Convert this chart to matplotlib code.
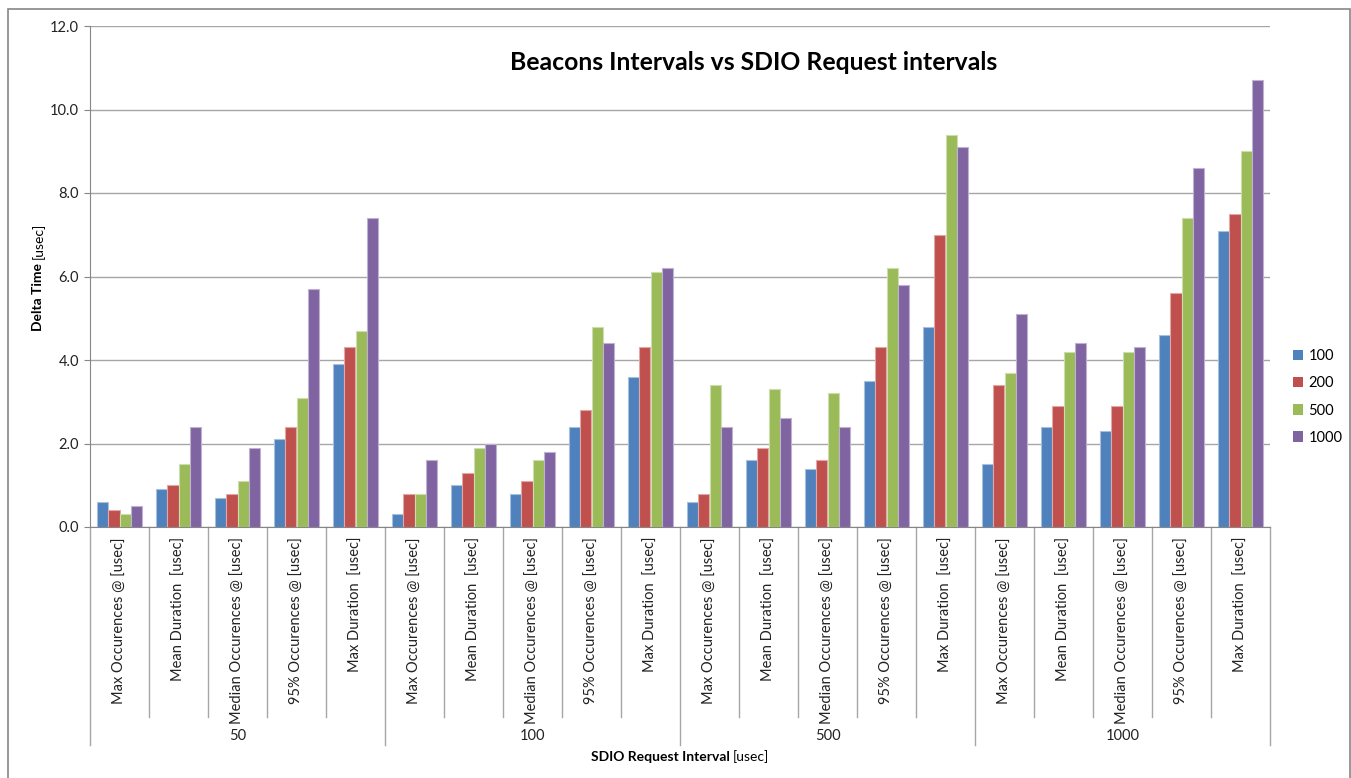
import matplotlib
matplotlib.use("Agg")
import matplotlib.pyplot as plt
import matplotlib.transforms as mtransforms
from matplotlib.patches import Rectangle
import numpy as np

plt.rcParams['font.family'] = ['Lato', 'DejaVu Sans']

groups = ["50", "100", "500", "1000"]
metrics = ["Max Occurences @ [usec]", "Mean Duration  [usec]",
           "Median Occurences @ [usec]", "95% Occurences @ [usec]",
           "Max Duration  [usec]"]
series_names = ["100", "200", "500", "1000"]

s100 = [0.6, 0.9, 0.7, 2.1, 3.9,
        0.3, 1.0, 0.8, 2.4, 3.6,
        0.6, 1.6, 1.4, 3.5, 4.8,
        1.5, 2.4, 2.3, 4.6, 7.1]
s200 = [0.4, 1.0, 0.8, 2.4, 4.3,
        0.8, 1.3, 1.1, 2.8, 4.3,
        0.8, 1.9, 1.6, 4.3, 7.0,
        3.4, 2.9, 2.9, 5.6, 7.5]
s500 = [0.3, 1.5, 1.1, 3.1, 4.7,
        0.8, 1.9, 1.6, 4.8, 6.1,
        3.4, 3.3, 3.2, 6.2, 9.4,
        3.7, 4.2, 4.2, 7.4, 9.0]
s1000 = [0.5, 2.4, 1.9, 5.7, 7.4,
         1.6, 2.0, 1.8, 4.4, 6.2,
         2.4, 2.6, 2.4, 5.8, 9.1,
         5.1, 4.4, 4.3, 8.6, 10.7]
series = [s100, s200, s500, s1000]
colors = ["#4F81BD", "#C0504D", "#9BBB59", "#8064A2"]
edge_colors = ["#A7C0DE", "#E0A8A6", "#CDDDAC", "#BFB1D0"]

W, H = 1351, 778
fig = plt.figure(figsize=(W / 100, H / 100), dpi=100)
ax = fig.add_axes([90 / W, 1 - 527 / H, (1270 - 90) / W, (527 - 26) / H])

n = len(s100)
x = np.arange(n)
bw = 0.19
for i, (vals, c, ec) in enumerate(zip(series, colors, edge_colors)):
    ax.bar(x + (i - 1.5) * bw, vals, width=bw, color=c, edgecolor=ec,
           linewidth=0.8, label=series_names[i], zorder=3)

ax.set_xlim(-0.5, n - 0.5)
ax.set_ylim(0, 12)
ax.set_yticks(np.arange(0, 12.1, 2))
ax.set_yticklabels([f"{v:.1f}" for v in np.arange(0, 12.1, 2)])
ax.tick_params(axis='y', length=4, color="#868686", labelsize=10.5,
               labelcolor="#222222", pad=4)
ax.set_xticks([])
ax.grid(axis='y', color="#A6A6A6", linewidth=1, zorder=0)
for s in ['top', 'right']:
    ax.spines[s].set_visible(False)
ax.spines['left'].set_color("#868686")
ax.spines['bottom'].set_color("#868686")

# category labels and separators
trans = mtransforms.blended_transform_factory(ax.transData, fig.transFigure)
for k in range(n):
    ax.text(k, 1 - 537 / H, metrics[k % len(metrics)], transform=trans,
            rotation=90, ha='center', va='top', fontsize=10.5, color="#222222")
for k in range(n + 1):
    bottom = 745 if k % len(metrics) == 0 else 717
    ax.plot([k - 0.5, k - 0.5], [1 - 527 / H, 1 - bottom / H], transform=trans,
            color="#A6A6A6", linewidth=1, clip_on=False)
for g, name in enumerate(groups):
    cx = g * len(metrics) + (len(metrics) - 1) / 2
    ax.text(cx, 1 - 736 / H, name, transform=trans, ha='center', va='center',
            fontsize=10.5, color="#222222")

# title
fig.text(754 / W, 1 - 62 / H, "Beacons Intervals vs SDIO Request intervals",
         ha='center', va='center', fontsize=17.8, fontweight='bold')

# axis titles with mixed weight
fig.canvas.draw()
r = fig.canvas.get_renderer()
t1 = fig.text(0, 1 - 757 / H, "SDIO Request Interval ", ha='left', va='center',
              fontsize=10, fontweight='bold')
t2 = fig.text(0, 1 - 757 / H, "[usec]", ha='left', va='center', fontsize=10)
w1 = t1.get_window_extent(r).width
w2 = t2.get_window_extent(r).width
x0 = 680 - (w1 + w2) / 2
t1.set_x(x0 / W)
t2.set_x((x0 + w1) / W)

y1 = fig.text(38 / W, 0, "Delta Time ", rotation=90, ha='center', va='bottom',
              fontsize=10, fontweight='bold')
y2 = fig.text(38 / W, 0, "[usec]", rotation=90, ha='center', va='bottom',
              fontsize=10)
h1 = y1.get_window_extent(r).height
h2 = y2.get_window_extent(r).height
ybot = (H - 277) - (h1 + h2) / 2
y1.set_y(ybot / H)
y2.set_y((ybot + h1) / H)

# legend
leg = ax.legend(loc='center left', bbox_to_anchor=(1280 / W, 1 - 397 / H),
                bbox_transform=fig.transFigure, frameon=False, fontsize=10.5,
                handlelength=0.7, handleheight=0.7, handletextpad=0.35,
                labelspacing=0.9)
for h in leg.legend_handles:
    h.set_edgecolor('none')

# outer border
fig.patches.append(Rectangle((8 / W, -0.01), (1350 - 8) / W, 1.01 - 9 / H,
                             transform=fig.transFigure, fill=False,
                             edgecolor="#868686", linewidth=1.2))

fig.savefig("out.png", dpi=100)
